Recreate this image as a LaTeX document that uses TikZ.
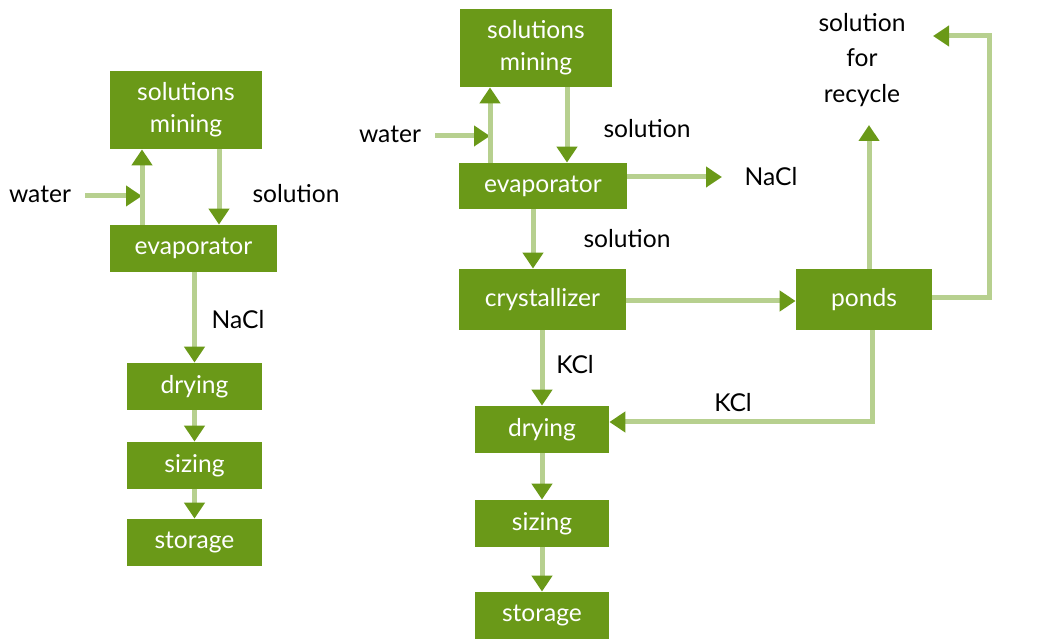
\documentclass[tikz,border=0pt]{standalone}
\usepackage{fontspec}
\setmainfont{Lato}
\usetikzlibrary{arrows.meta, positioning, calc}
\definecolor{boxgreen}{RGB}{106, 153, 24}
\definecolor{linegreen}{RGB}{183, 208, 143}

\tikzset{
    stage/.style={fill=boxgreen, text=white, inner sep=0pt, align=center,
        font=\fontsize{14}{18}\selectfont},
    flow/.style={draw=linegreen, line width=0.1cm,
        -{Triangle[length=0.32cm, width=0.4cm, color=boxgreen]}},
    lbl/.style={text=black, align=center, font=\fontsize{14}{20}\selectfont}
}

\begin{document}
\begin{tikzpicture}[x=0.02cm, y=-0.02cm]
    \useasboundingbox (0,0) rectangle (1062,641);

    % Left process: NaCl
    \node[stage, minimum width=152*0.02cm, minimum height=78*0.02cm] (mineL) at (186,110) {solutions\\mining};
    \node[stage, minimum width=167*0.02cm, minimum height=47*0.02cm] (evapL) at (193.5,248.5) {evaporator};
    \node[stage, minimum width=135*0.02cm, minimum height=47*0.02cm] (dryL) at (194.5,386.5) {drying};
    \node[stage, minimum width=135*0.02cm, minimum height=47*0.02cm] (sizeL) at (194.5,465.5) {sizing};
    \node[stage, minimum width=135*0.02cm, minimum height=47*0.02cm] (storeL) at (194.5,542.5) {storage};

    \coordinate (upL) at (142,0);
    \coordinate (downL) at (219,0);
    \coordinate (waterL) at (85,196);
    \node[lbl] (waterLtxt) at (40,194) {water};
    \node[lbl] (solL) at (296,194) {solution};
    \node[lbl] (naclL) at (238,320) {NaCl};

    \draw[flow] (waterL) -- (waterL -| upL);
    \draw[flow] (evapL.north -| upL) -- (mineL.south -| upL);
    \draw[flow] (mineL.south -| downL) -- (evapL.north -| downL);
    \draw[flow] (evapL.south -| dryL) -- (dryL.north);
    \draw[flow] (dryL.south) -- (sizeL.north);
    \draw[flow] (sizeL.south) -- (storeL.north);

    % Right process: KCl
    \node[stage, minimum width=152*0.02cm, minimum height=78*0.02cm] (mineR) at (536,48) {solutions\\mining};
    \node[stage, minimum width=168*0.02cm, minimum height=46*0.02cm] (evapR) at (543,186) {evaporator};
    \node[stage, minimum width=167*0.02cm, minimum height=61*0.02cm] (crys) at (542.5,299.5) {crystallizer};
    \node[stage, minimum width=136*0.02cm, minimum height=61*0.02cm] (ponds) at (864,299.5) {ponds};
    \node[stage, minimum width=134*0.02cm, minimum height=47*0.02cm] (dryR) at (542,429.5) {drying};
    \node[stage, minimum width=134*0.02cm, minimum height=47*0.02cm] (sizeR) at (542,523.5) {sizing};
    \node[stage, minimum width=134*0.02cm, minimum height=47*0.02cm] (storeR) at (542,615.5) {storage};

    \coordinate (upR) at (490,0);
    \coordinate (downR) at (567,0);
    \coordinate (waterR) at (435,136);
    \coordinate (naclEnd) at (722,177);
    \coordinate (recEnd) at (869,125);
    \coordinate (loopTop) at (989,36);
    \coordinate (loopEnd) at (933,36);
    \coordinate (kclCorner) at (872,422);
    \node[lbl] (waterRtxt) at (390,134) {water};
    \node[lbl] (solR) at (647,129) {solution};
    \node[lbl] (naclR) at (771,177) {NaCl};
    \node[lbl] (solR2) at (627,239) {solution};
    \node[lbl] (kclA) at (575,365) {KCl};
    \node[lbl] (kclB) at (733,403) {KCl};
    \node[lbl] (recycle) at (862,60) {solution\\for\\recycle};

    \draw[flow] (waterR) -- (waterR -| upR);
    \draw[flow] (evapR.north -| upR) -- (mineR.south -| upR);
    \draw[flow] (mineR.south -| downR) -- (evapR.north -| downR);
    \draw[flow] (evapR.east |- naclEnd) -- (naclEnd);
    \draw[flow] (evapR.south -| 533,0) -- (crys.north -| 533,0);
    \draw[flow] (crys.east |- 0,301) -- (ponds.west |- 0,301);
    \draw[flow] (ponds.north -| recEnd) -- (recEnd);
    \draw[flow] (ponds.east |- 0,298) -| (loopTop) -- (loopEnd);
    \draw[flow] (ponds.south -| kclCorner) -- (kclCorner) -- (dryR.east |- kclCorner);
    \draw[flow] (crys.south -| dryR) -- (dryR.north);
    \draw[flow] (dryR.south) -- (sizeR.north);
    \draw[flow] (sizeR.south) -- (storeR.north);
\end{tikzpicture}
\end{document}
